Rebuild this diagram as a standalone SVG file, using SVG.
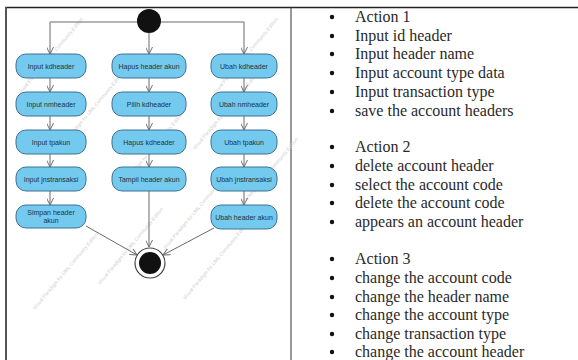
<svg xmlns="http://www.w3.org/2000/svg" width="578" height="360" viewBox="0 0 578 360">
<defs>
<style>
.node rect{fill:#74c9ee;stroke:#3d7393;stroke-width:1}
.node text{font-family:"Liberation Sans",Arial,sans-serif;font-size:7px;fill:#1d3342;text-anchor:middle}
.conn line{stroke:#6a6a6a;stroke-width:1;fill:none}
.li{font-family:"Liberation Serif","Times New Roman",serif;font-size:16px;fill:#2a2a2a}
.wm{font-family:"Liberation Sans",Arial,sans-serif;font-size:5px;fill:#cfcfcf}
</style>
<marker id="arr" viewBox="0 0 10 10" refX="10" refY="5" markerWidth="7" markerHeight="7" orient="auto" markerUnits="userSpaceOnUse">
<path d="M0,0 L10,5 L0,10" fill="none" stroke="#6a6a6a" stroke-width="1.4"/>
</marker>
</defs>
<rect width="578" height="360" fill="#fff"/>
<g id="table">
<line x1="5" y1="7.5" x2="578" y2="7.5" stroke="#222" stroke-width="1.5"/>
<line x1="6" y1="7" x2="6" y2="360" stroke="#555" stroke-width="2"/>
<line x1="291" y1="7" x2="291" y2="360" stroke="#333" stroke-width="1"/>
</g>
<g id="watermark">
<text class="wm" transform="translate(20,95) rotate(-50)">Visual Paradigm for UML Community Edition</text>
<text class="wm" transform="translate(60,150) rotate(-50)">Visual Paradigm for UML Community Edition</text>
<text class="wm" transform="translate(35,310) rotate(-50)">Visual Paradigm for UML Community Edition</text>
<text class="wm" transform="translate(100,285) rotate(-50)">Visual Paradigm for UML Community Edition</text>
<text class="wm" transform="translate(120,190) rotate(-50)">Visual Paradigm for UML Community Edition</text>
<text class="wm" transform="translate(165,250) rotate(-50)">Visual Paradigm for UML Community Edition</text>
<text class="wm" transform="translate(185,300) rotate(-50)">Visual Paradigm for UML Community Edition</text>
<text class="wm" transform="translate(195,150) rotate(-50)">Visual Paradigm for UML Community Edition</text>
<text class="wm" transform="translate(215,95) rotate(-50)">Visual Paradigm for UML Community Edition</text>
<text class="wm" transform="translate(235,215) rotate(-50)">Visual Paradigm for UML Community Edition</text>
</g>
<g class="conn" id="connectors">
<line x1="50" y1="22" x2="244" y2="22"/>
<line x1="50" y1="22" x2="50" y2="54" marker-end="url(#arr)"/>
<line x1="149" y1="33" x2="149" y2="54" marker-end="url(#arr)"/>
<line x1="244" y1="22" x2="244" y2="54" marker-end="url(#arr)"/>
<line x1="50" y1="78" x2="50" y2="92" marker-end="url(#arr)"/>
<line x1="50" y1="116" x2="50" y2="130" marker-end="url(#arr)"/>
<line x1="50" y1="154" x2="50" y2="167" marker-end="url(#arr)"/>
<line x1="50" y1="191" x2="50" y2="205" marker-end="url(#arr)"/>
<line x1="149" y1="78" x2="149" y2="92" marker-end="url(#arr)"/>
<line x1="149" y1="116" x2="149" y2="130" marker-end="url(#arr)"/>
<line x1="149" y1="154" x2="149" y2="167" marker-end="url(#arr)"/>
<line x1="244" y1="78" x2="244" y2="92" marker-end="url(#arr)"/>
<line x1="244" y1="116" x2="244" y2="130" marker-end="url(#arr)"/>
<line x1="244" y1="154" x2="244" y2="167" marker-end="url(#arr)"/>
<line x1="244" y1="191" x2="244" y2="205" marker-end="url(#arr)"/>
<line x1="86" y1="226" x2="137" y2="255" marker-end="url(#arr)"/>
<line x1="149" y1="191" x2="149" y2="247" marker-end="url(#arr)"/>
<line x1="214" y1="228" x2="163" y2="255" marker-end="url(#arr)"/>
</g>
<g id="start"><circle cx="149" cy="21" r="12" fill="#111"/></g>
<g id="end"><circle cx="150" cy="263" r="15" fill="#fff" stroke="#444" stroke-width="1.2"/><circle cx="150" cy="263" r="11" fill="#111"/></g>
<g id="n1" class="node"><rect x="16" y="54" width="70" height="24" rx="10"/><text x="51" y="68.5">Input kdheader</text></g>
<g id="n2" class="node"><rect x="16" y="92" width="70" height="24" rx="10"/><text x="51" y="106.5">Input nmheader</text></g>
<g id="n3" class="node"><rect x="16" y="130" width="70" height="24" rx="10"/><text x="51" y="144.5">Input tpakun</text></g>
<g id="n4" class="node"><rect x="16" y="167" width="70" height="24" rx="10"/><text x="51" y="181.5">Input jnstransaksi</text></g>
<g id="n5" class="node"><rect x="16" y="205" width="70" height="23" rx="10"/><text x="51" y="215">Simpan header</text><text x="51" y="223">akun</text></g>
<g id="n6" class="node"><rect x="112" y="54" width="74" height="24" rx="10"/><text x="149" y="68.5">Hapus header akun</text></g>
<g id="n7" class="node"><rect x="112" y="92" width="74" height="24" rx="10"/><text x="149" y="106.5">Pilih kdheader</text></g>
<g id="n8" class="node"><rect x="112" y="130" width="74" height="24" rx="10"/><text x="149" y="144.5">Hapus kdheader</text></g>
<g id="n9" class="node"><rect x="112" y="167" width="74" height="24" rx="10"/><text x="149" y="181.5">Tampil header akun</text></g>
<g id="n10" class="node"><rect x="211" y="54" width="66" height="24" rx="10"/><text x="244" y="68.5">Ubah kdheader</text></g>
<g id="n11" class="node"><rect x="211" y="92" width="66" height="24" rx="10"/><text x="244" y="106.5">Ubah nmheader</text></g>
<g id="n12" class="node"><rect x="211" y="130" width="66" height="24" rx="10"/><text x="244" y="144.5">Ubah tpakun</text></g>
<g id="n13" class="node"><rect x="211" y="167" width="66" height="24" rx="10"/><text x="244" y="181.5">Ubah jnstransaksi</text></g>
<g id="n14" class="node"><rect x="211" y="205" width="66" height="24" rx="10"/><text x="244" y="219.5">Ubah header akun</text></g>
<g id="list" fill="#111">
<circle cx="332" cy="17" r="2.2"/><text class="li" x="355" y="22">Action 1</text>
<circle cx="332" cy="36" r="2.2"/><text class="li" x="355" y="41">Input id header</text>
<circle cx="332" cy="54" r="2.2"/><text class="li" x="355" y="59">Input header name</text>
<circle cx="332" cy="73" r="2.2"/><text class="li" x="355" y="78">Input account type data</text>
<circle cx="332" cy="92" r="2.2"/><text class="li" x="355" y="97">Input transaction type</text>
<circle cx="332" cy="111" r="2.2"/><text class="li" x="355" y="116">save the account headers</text>
<circle cx="332" cy="147" r="2.2"/><text class="li" x="355" y="152">Action 2</text>
<circle cx="332" cy="166" r="2.2"/><text class="li" x="355" y="171">delete account header</text>
<circle cx="332" cy="185" r="2.2"/><text class="li" x="355" y="190">select the account code</text>
<circle cx="332" cy="203" r="2.2"/><text class="li" x="355" y="208">delete the account code</text>
<circle cx="332" cy="222" r="2.2"/><text class="li" x="355" y="227">appears an account header</text>
<circle cx="332" cy="259" r="2.2"/><text class="li" x="355" y="264">Action 3</text>
<circle cx="332" cy="278" r="2.2"/><text class="li" x="355" y="283">change the account code</text>
<circle cx="332" cy="297" r="2.2"/><text class="li" x="355" y="302">change the header name</text>
<circle cx="332" cy="315" r="2.2"/><text class="li" x="355" y="320">change the account type</text>
<circle cx="332" cy="334" r="2.2"/><text class="li" x="355" y="339">change transaction type</text>
<circle cx="332" cy="352" r="2.2"/><text class="li" x="355" y="357">change the account header</text>
</g>
</svg>
